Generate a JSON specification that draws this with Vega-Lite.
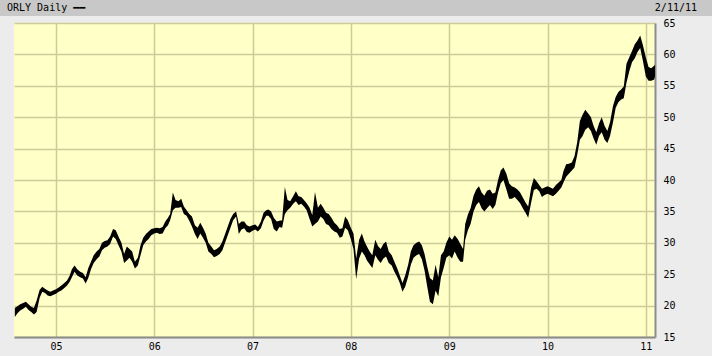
{
  "$schema": "https://vega.github.io/schema/vega-lite/v6.json",
  "background": "#ececec",
  "padding": 0,
  "spacing": 2,
  "center": true,
  "bounds": "full",
  "config": {"font": "DejaVu Sans Mono", "view": {"stroke": null}},
  "datasets": {
    "orly": [
      {"d":"2004-08-01","lo":18.2,"hi":19.6},{"d":"2004-08-11","lo":18.8,"hi":19.9},{"d":"2004-08-21","lo":19.2,"hi":20.2},
      {"d":"2004-09-01","lo":19.5,"hi":20.4},{"d":"2004-09-11","lo":19.8,"hi":20.6},{"d":"2004-09-21","lo":19.3,"hi":20.2},
      {"d":"2004-10-01","lo":19.0,"hi":19.8},{"d":"2004-10-11","lo":18.6,"hi":19.6},{"d":"2004-10-21","lo":19.0,"hi":20.8},
      {"d":"2004-11-01","lo":21.2,"hi":22.5},{"d":"2004-11-11","lo":22.2,"hi":23.0},{"d":"2004-11-21","lo":22.0,"hi":22.7},
      {"d":"2004-12-01","lo":21.6,"hi":22.4},{"d":"2004-12-11","lo":21.5,"hi":22.2},{"d":"2004-12-21","lo":21.7,"hi":22.4},
      {"d":"2005-01-01","lo":21.9,"hi":22.6},{"d":"2005-01-11","lo":22.2,"hi":22.9},{"d":"2005-01-21","lo":22.4,"hi":23.2},
      {"d":"2005-02-01","lo":22.8,"hi":23.6},{"d":"2005-02-11","lo":23.2,"hi":24.0},{"d":"2005-02-21","lo":23.8,"hi":24.8},
      {"d":"2005-03-01","lo":24.5,"hi":25.8},{"d":"2005-03-11","lo":25.4,"hi":26.4},{"d":"2005-03-21","lo":24.8,"hi":25.8},
      {"d":"2005-04-01","lo":24.5,"hi":25.4},{"d":"2005-04-11","lo":24.3,"hi":25.2},{"d":"2005-04-21","lo":23.5,"hi":24.5},
      {"d":"2005-05-01","lo":24.4,"hi":26.0},{"d":"2005-05-11","lo":25.8,"hi":27.0},{"d":"2005-05-21","lo":26.8,"hi":28.0},
      {"d":"2005-06-01","lo":27.4,"hi":28.6},{"d":"2005-06-11","lo":27.8,"hi":29.0},{"d":"2005-06-21","lo":28.8,"hi":30.0},
      {"d":"2005-07-01","lo":29.2,"hi":30.3},{"d":"2005-07-11","lo":29.4,"hi":30.4},{"d":"2005-07-21","lo":29.8,"hi":31.0},
      {"d":"2005-08-01","lo":31.0,"hi":32.2},{"d":"2005-08-11","lo":30.6,"hi":32.0},{"d":"2005-08-21","lo":29.6,"hi":31.0},
      {"d":"2005-09-01","lo":28.6,"hi":30.0},{"d":"2005-09-11","lo":26.8,"hi":28.2},{"d":"2005-09-21","lo":27.2,"hi":29.4},
      {"d":"2005-10-01","lo":27.6,"hi":29.0},{"d":"2005-10-11","lo":27.0,"hi":28.6},{"d":"2005-10-21","lo":25.9,"hi":27.0},
      {"d":"2005-11-01","lo":26.4,"hi":27.6},{"d":"2005-11-11","lo":28.0,"hi":29.6},{"d":"2005-11-21","lo":29.6,"hi":30.8},
      {"d":"2005-12-01","lo":30.2,"hi":31.4},{"d":"2005-12-11","lo":30.6,"hi":31.8},{"d":"2005-12-21","lo":31.2,"hi":32.2},
      {"d":"2006-01-01","lo":31.5,"hi":32.3},{"d":"2006-01-11","lo":31.6,"hi":32.4},{"d":"2006-01-21","lo":31.4,"hi":32.3},
      {"d":"2006-02-01","lo":31.5,"hi":32.5},{"d":"2006-02-11","lo":32.3,"hi":33.4},{"d":"2006-02-21","lo":32.8,"hi":34.0},
      {"d":"2006-03-01","lo":33.6,"hi":34.6},{"d":"2006-03-11","lo":35.2,"hi":38.0},{"d":"2006-03-21","lo":35.6,"hi":36.8},
      {"d":"2006-04-01","lo":35.6,"hi":36.6},{"d":"2006-04-11","lo":35.7,"hi":37.0},{"d":"2006-04-21","lo":34.6,"hi":35.8},
      {"d":"2006-05-01","lo":34.3,"hi":35.2},{"d":"2006-05-11","lo":33.5,"hi":34.6},{"d":"2006-05-21","lo":32.6,"hi":34.2},
      {"d":"2006-06-01","lo":31.4,"hi":32.8},{"d":"2006-06-11","lo":30.6,"hi":32.4},{"d":"2006-06-21","lo":31.5,"hi":33.2},
      {"d":"2006-07-01","lo":30.8,"hi":32.4},{"d":"2006-07-11","lo":30.0,"hi":31.5},{"d":"2006-07-21","lo":28.6,"hi":30.0},
      {"d":"2006-08-01","lo":28.2,"hi":29.4},{"d":"2006-08-11","lo":27.7,"hi":28.8},{"d":"2006-08-21","lo":27.9,"hi":29.0},
      {"d":"2006-09-01","lo":28.2,"hi":29.4},{"d":"2006-09-11","lo":28.8,"hi":30.2},{"d":"2006-09-21","lo":30.0,"hi":31.4},
      {"d":"2006-10-01","lo":31.2,"hi":32.6},{"d":"2006-10-11","lo":32.4,"hi":33.8},{"d":"2006-10-21","lo":33.6,"hi":34.6},
      {"d":"2006-11-01","lo":34.2,"hi":35.0},{"d":"2006-11-11","lo":31.4,"hi":33.0},{"d":"2006-11-21","lo":32.1,"hi":33.4},
      {"d":"2006-12-01","lo":32.3,"hi":33.4},{"d":"2006-12-11","lo":31.7,"hi":32.8},{"d":"2006-12-21","lo":31.6,"hi":32.6},
      {"d":"2007-01-01","lo":31.9,"hi":32.8},{"d":"2007-01-11","lo":32.1,"hi":32.9},{"d":"2007-01-21","lo":31.8,"hi":32.5},
      {"d":"2007-02-01","lo":32.3,"hi":33.4},{"d":"2007-02-11","lo":33.5,"hi":34.8},{"d":"2007-02-21","lo":34.3,"hi":35.2},
      {"d":"2007-03-01","lo":34.3,"hi":35.3},{"d":"2007-03-11","lo":33.8,"hi":35.0},{"d":"2007-03-21","lo":32.2,"hi":34.0},
      {"d":"2007-04-01","lo":31.8,"hi":33.4},{"d":"2007-04-11","lo":32.5,"hi":33.5},{"d":"2007-04-21","lo":32.4,"hi":33.6},
      {"d":"2007-05-01","lo":34.6,"hi":38.9},{"d":"2007-05-11","lo":35.2,"hi":36.8},{"d":"2007-05-21","lo":35.6,"hi":36.6},
      {"d":"2007-06-01","lo":36.2,"hi":37.4},{"d":"2007-06-11","lo":36.6,"hi":38.2},{"d":"2007-06-21","lo":36.0,"hi":37.4},
      {"d":"2007-07-01","lo":36.2,"hi":37.3},{"d":"2007-07-11","lo":35.8,"hi":36.8},{"d":"2007-07-21","lo":35.2,"hi":36.3},
      {"d":"2007-08-01","lo":33.8,"hi":35.6},{"d":"2007-08-11","lo":32.6,"hi":34.4},{"d":"2007-08-21","lo":33.0,"hi":38.1},
      {"d":"2007-09-01","lo":33.4,"hi":35.6},{"d":"2007-09-11","lo":34.2,"hi":36.2},{"d":"2007-09-21","lo":33.8,"hi":35.6},
      {"d":"2007-10-01","lo":33.0,"hi":34.8},{"d":"2007-10-11","lo":32.8,"hi":34.6},{"d":"2007-10-21","lo":32.2,"hi":34.0},
      {"d":"2007-11-01","lo":31.8,"hi":33.2},{"d":"2007-11-11","lo":31.6,"hi":32.8},{"d":"2007-11-21","lo":30.8,"hi":32.2},
      {"d":"2007-12-01","lo":31.0,"hi":32.3},{"d":"2007-12-11","lo":32.4,"hi":34.2},{"d":"2007-12-21","lo":32.0,"hi":33.6},
      {"d":"2008-01-01","lo":30.6,"hi":32.4},{"d":"2008-01-11","lo":29.0,"hi":31.5},{"d":"2008-01-21","lo":24.2,"hi":27.5},
      {"d":"2008-02-01","lo":27.5,"hi":30.5},{"d":"2008-02-11","lo":28.6,"hi":31.5},{"d":"2008-02-21","lo":28.0,"hi":30.2},
      {"d":"2008-03-01","lo":27.2,"hi":29.4},{"d":"2008-03-11","lo":26.6,"hi":28.6},{"d":"2008-03-21","lo":26.0,"hi":28.0},
      {"d":"2008-04-01","lo":28.0,"hi":30.5},{"d":"2008-04-11","lo":27.3,"hi":29.5},{"d":"2008-04-21","lo":26.8,"hi":29.0},
      {"d":"2008-05-01","lo":27.5,"hi":29.8},{"d":"2008-05-11","lo":27.8,"hi":30.2},{"d":"2008-05-21","lo":26.8,"hi":28.6},
      {"d":"2008-06-01","lo":26.4,"hi":28.0},{"d":"2008-06-11","lo":25.4,"hi":27.0},{"d":"2008-06-21","lo":24.6,"hi":26.0},
      {"d":"2008-07-01","lo":23.6,"hi":24.8},{"d":"2008-07-11","lo":22.2,"hi":23.6},{"d":"2008-07-21","lo":23.0,"hi":24.8},
      {"d":"2008-08-01","lo":24.6,"hi":26.5},{"d":"2008-08-11","lo":26.5,"hi":28.6},{"d":"2008-08-21","lo":27.6,"hi":29.6},
      {"d":"2008-09-01","lo":28.0,"hi":30.0},{"d":"2008-09-11","lo":28.2,"hi":30.2},{"d":"2008-09-21","lo":27.4,"hi":29.6},
      {"d":"2008-10-01","lo":25.6,"hi":28.2},{"d":"2008-10-11","lo":23.0,"hi":26.2},{"d":"2008-10-21","lo":20.6,"hi":24.4},
      {"d":"2008-11-01","lo":20.2,"hi":24.0},{"d":"2008-11-11","lo":22.4,"hi":26.5},{"d":"2008-11-21","lo":21.5,"hi":24.5},
      {"d":"2008-12-01","lo":24.5,"hi":28.0},{"d":"2008-12-11","lo":26.0,"hi":28.6},{"d":"2008-12-21","lo":27.6,"hi":30.0},
      {"d":"2009-01-01","lo":28.0,"hi":31.0},{"d":"2009-01-11","lo":27.5,"hi":30.5},{"d":"2009-01-21","lo":28.6,"hi":31.2},
      {"d":"2009-02-01","lo":27.6,"hi":30.6},{"d":"2009-02-11","lo":27.0,"hi":29.8},{"d":"2009-02-21","lo":27.0,"hi":29.0},
      {"d":"2009-03-01","lo":30.5,"hi":33.0},{"d":"2009-03-11","lo":32.0,"hi":34.5},{"d":"2009-03-21","lo":33.0,"hi":35.5},
      {"d":"2009-04-01","lo":35.0,"hi":37.5},{"d":"2009-04-11","lo":36.0,"hi":38.5},{"d":"2009-04-21","lo":36.5,"hi":39.0},
      {"d":"2009-05-01","lo":35.5,"hi":38.0},{"d":"2009-05-11","lo":35.0,"hi":37.5},{"d":"2009-05-21","lo":35.5,"hi":38.3},
      {"d":"2009-06-01","lo":36.0,"hi":38.5},{"d":"2009-06-11","lo":35.4,"hi":37.8},{"d":"2009-06-21","lo":36.0,"hi":38.0},
      {"d":"2009-07-01","lo":38.0,"hi":40.0},{"d":"2009-07-11","lo":39.5,"hi":41.5},{"d":"2009-07-21","lo":40.0,"hi":42.0},
      {"d":"2009-08-01","lo":38.5,"hi":41.0},{"d":"2009-08-11","lo":37.0,"hi":39.5},{"d":"2009-08-21","lo":37.0,"hi":39.0},
      {"d":"2009-09-01","lo":37.3,"hi":38.8},{"d":"2009-09-11","lo":36.8,"hi":38.5},{"d":"2009-09-21","lo":36.3,"hi":38.0},
      {"d":"2009-10-01","lo":35.5,"hi":37.2},{"d":"2009-10-11","lo":34.8,"hi":36.4},{"d":"2009-10-21","lo":34.0,"hi":35.8},
      {"d":"2009-11-01","lo":36.4,"hi":38.8},{"d":"2009-11-11","lo":38.4,"hi":40.3},{"d":"2009-11-21","lo":38.6,"hi":39.8},
      {"d":"2009-12-01","lo":38.2,"hi":39.2},{"d":"2009-12-11","lo":37.3,"hi":38.6},{"d":"2009-12-21","lo":37.6,"hi":38.8},
      {"d":"2010-01-01","lo":37.8,"hi":39.0},{"d":"2010-01-11","lo":37.6,"hi":38.8},{"d":"2010-01-21","lo":37.4,"hi":38.6},
      {"d":"2010-02-01","lo":37.8,"hi":39.2},{"d":"2010-02-11","lo":38.3,"hi":39.6},{"d":"2010-02-21","lo":38.8,"hi":40.0},
      {"d":"2010-03-01","lo":39.6,"hi":41.4},{"d":"2010-03-11","lo":40.5,"hi":42.5},{"d":"2010-03-21","lo":41.0,"hi":42.6},
      {"d":"2010-04-01","lo":41.5,"hi":42.8},{"d":"2010-04-11","lo":42.0,"hi":43.8},{"d":"2010-04-21","lo":44.0,"hi":46.0},
      {"d":"2010-05-01","lo":46.4,"hi":49.4},{"d":"2010-05-11","lo":47.0,"hi":50.4},{"d":"2010-05-21","lo":48.0,"hi":51.2},
      {"d":"2010-06-01","lo":48.4,"hi":50.6},{"d":"2010-06-11","lo":47.8,"hi":50.0},{"d":"2010-06-21","lo":46.6,"hi":48.6},
      {"d":"2010-07-01","lo":45.6,"hi":47.6},{"d":"2010-07-11","lo":47.0,"hi":49.0},{"d":"2010-07-21","lo":47.6,"hi":50.0},
      {"d":"2010-08-01","lo":46.4,"hi":48.6},{"d":"2010-08-11","lo":45.9,"hi":47.8},{"d":"2010-08-21","lo":47.0,"hi":49.2},
      {"d":"2010-09-01","lo":49.2,"hi":51.8},{"d":"2010-09-11","lo":51.5,"hi":53.2},{"d":"2010-09-21","lo":52.4,"hi":54.0},
      {"d":"2010-10-01","lo":52.8,"hi":54.4},{"d":"2010-10-11","lo":53.0,"hi":54.9},{"d":"2010-10-21","lo":55.5,"hi":58.5},
      {"d":"2010-11-01","lo":57.4,"hi":59.6},{"d":"2010-11-11","lo":58.8,"hi":60.6},{"d":"2010-11-21","lo":59.4,"hi":61.6},
      {"d":"2010-12-01","lo":60.4,"hi":62.2},{"d":"2010-12-11","lo":61.0,"hi":63.0},{"d":"2010-12-21","lo":59.0,"hi":61.5},
      {"d":"2011-01-01","lo":56.5,"hi":59.5},{"d":"2011-01-11","lo":55.8,"hi":58.0},{"d":"2011-01-21","lo":55.8,"hi":57.8},
      {"d":"2011-02-01","lo":56.0,"hi":58.2},{"d":"2011-02-04","lo":56.5,"hi":58.4}
    ]
  },
  "vconcat": [
    {
      "width": 712,
      "height": 16,
      "view": {"fill": "#c8c8c8", "stroke": null},
      "data": {"values": [{"side": "left", "label": "ORLY Daily ━━"}, {"side": "right", "label": "2/11/11"}]},
      "layer": [
        {
          "transform": [{"filter": "datum.side === 'left'"}],
          "mark": {"type": "text", "align": "left", "baseline": "middle", "dx": 7, "fontSize": 10, "font": "DejaVu Sans Mono", "color": "black"},
          "encoding": {
            "x": {"datum": 0, "type": "quantitative", "scale": {"domain": [0, 1], "nice": false, "zero": false}, "axis": null},
            "text": {"field": "label"}
          }
        },
        {
          "transform": [{"filter": "datum.side === 'right'"}],
          "mark": {"type": "text", "align": "right", "baseline": "middle", "dx": -15, "fontSize": 10, "font": "DejaVu Sans Mono", "color": "black"},
          "encoding": {
            "x": {"datum": 1, "type": "quantitative", "axis": null},
            "text": {"field": "label"}
          }
        }
      ]
    },
    {
      "width": 641,
      "height": 314,
      "view": {"fill": "#ffffc8", "stroke": null},
      "data": {"name": "orly"},
      "mark": {"type": "area", "color": "black", "interpolate": "linear"},
      "encoding": {
        "x": {
          "field": "d",
          "type": "temporal",
          "scale": {"domain": [{"year": 2004, "month": 7, "date": 29}, {"year": 2011, "month": 2, "date": 4}], "nice": false},
          "axis": {
            "orient": "bottom",
            "format": "%y",
            "tickCount": {"interval": "year", "step": 1},
            "grid": true,
            "gridColor": "#cdcc98",
            "gridWidth": 1.5,
            "ticks": false,
            "labelPadding": 4,
            "labelFont": "DejaVu Sans Mono",
            "labelFontSize": 10,
            "labelColor": "black",
            "labelFlush": false,
            "labelOverlap": false,
            "domainColor": "#8c8c8c",
            "domainWidth": 2,
            "title": null,
            "minExtent": 19,
            "maxExtent": 19
          }
        },
        "y": {
          "field": "lo",
          "type": "quantitative",
          "scale": {"domain": [15, 65], "nice": false, "zero": false},
          "axis": {
            "orient": "right",
            "values": [15, 20, 25, 30, 35, 40, 45, 50, 55, 60, 65],
            "grid": true,
            "gridColor": "#cdcc98",
            "gridWidth": 1.5,
            "ticks": false,
            "labelPadding": 8,
            "labelFont": "DejaVu Sans Mono",
            "labelFontSize": 10,
            "labelColor": "black",
            "labelFlush": false,
            "domainColor": "#8c8c8c",
            "domainWidth": 2,
            "title": null,
            "minExtent": 43,
            "maxExtent": 43
          }
        },
        "y2": {"field": "hi"}
      }
    }
  ]
}
